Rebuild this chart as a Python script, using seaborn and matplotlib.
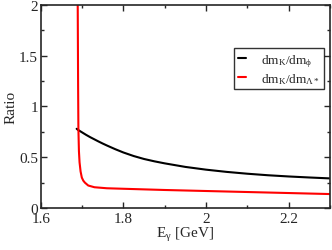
import numpy as np
import pandas as pd
import matplotlib
matplotlib.use("Agg")
import matplotlib.pyplot as plt
import seaborn as sns

# values
e_phi = [1.687, 1.69, 1.70, 1.71, 1.72, 1.73, 1.74, 1.75, 1.76, 1.78, 1.80,
         1.825, 1.85, 1.875, 1.90, 1.95, 2.00, 2.05, 2.10, 2.15, 2.20, 2.25,
         2.30]
ratio_phi = [0.78, 0.77, 0.745, 0.72, 0.697, 0.676, 0.655, 0.635, 0.616,
             0.58, 0.547, 0.512, 0.483, 0.46, 0.44, 0.405, 0.378, 0.356,
             0.338, 0.323, 0.311, 0.301, 0.292]

e_lam = [1.6895, 1.6905, 1.6912, 1.6925, 1.694, 1.6965, 1.6995, 1.703, 1.707,
         1.715, 1.73, 1.76, 1.80, 1.90, 2.00, 2.10, 2.20, 2.30]
ratio_lam = [2.05, 1.2, 0.78, 0.56, 0.45, 0.36, 0.30, 0.27, 0.25, 0.222,
             0.205, 0.195, 0.19, 0.178, 0.168, 0.158, 0.148, 0.138]

label_phi = r"dm$_\mathregular{K}$/dm$_\mathregular{\phi}$"
label_lam = r"dm$_\mathregular{K}$/dm$_\mathregular{\Lambda*}$"

df = pd.concat([
    pd.DataFrame({"E": e_phi, "ratio": ratio_phi, "series": label_phi}),
    pd.DataFrame({"E": e_lam, "ratio": ratio_lam, "series": label_lam}),
])

sns.set_style("ticks")
plt.rcParams["font.family"] = ["Liberation Serif", "DejaVu Serif"]
plt.rcParams["mathtext.fontset"] = "custom"
plt.rcParams["mathtext.rm"] = "Liberation Serif"
plt.rcParams["mathtext.it"] = "Liberation Serif"

fig = plt.figure(figsize=(3.32, 2.51), dpi=100)
ax = fig.add_axes([0.1226, 0.167, 0.8714, 0.81])

sns.lineplot(data=df, x="E", y="ratio", hue="series", sort=False,
             palette={label_phi: "black", label_lam: "red"},
             linewidth=1.5, ax=ax)

ax.set_xlim(1.6, 2.3)
ax.set_ylim(0, 2)
ax.set_xticks([1.6, 1.8, 2.0, 2.2])
ax.set_xticklabels(["1.6", "1.8", "2", "2.2"])
ax.set_xticks(np.arange(1.7, 2.31, 0.2), minor=True)
ax.set_yticks([0, 0.5, 1, 1.5, 2])
ax.set_yticklabels(["0", "0.5", "1", "1.5", "2"])
ax.set_yticks([0.25, 0.75, 1.25, 1.75], minor=True)
ax.tick_params(which="both", direction="in", top=True, right=True,
               labelsize=11, width=1, pad=2)
ax.tick_params(which="major", length=4)
ax.tick_params(which="minor", length=2)
ax.tick_params(axis="x", pad=3)
for s in ax.spines.values():
    s.set_linewidth(1.2)

ax.set_xlabel(r"E$_\mathregular{\gamma}$ [GeV]", fontsize=11, labelpad=0)
ax.set_ylabel("Ratio", fontsize=11, labelpad=1)

leg = ax.legend(loc="upper right", bbox_to_anchor=(0.979, 0.787), fontsize=9.5,
                frameon=True, fancybox=False, edgecolor="black",
                handlelength=0.6, handletextpad=1.1, borderpad=0.3,
                labelspacing=0.15, borderaxespad=0)
leg.get_frame().set_linewidth(1.0)

plt.savefig("out.png", dpi=100)
